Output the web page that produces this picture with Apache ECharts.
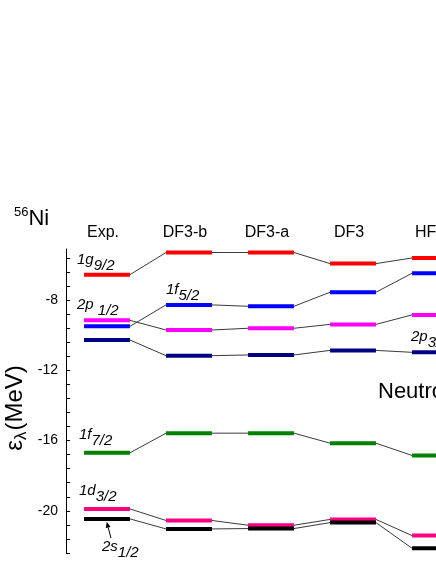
<!DOCTYPE html>
<html>
<head>
<meta charset="utf-8">
<script src="https://cdn.jsdelivr.net/npm/echarts@6/dist/echarts.min.js"></script>
<style>
  html, body { margin: 0; padding: 0; background: #fff; }
  #chart { width: 436px; height: 564px; }
</style>
</head>
<body>
<div id="chart"></div>
<script>
// methods along the top
const methods = ['Exp.', 'DF3-b', 'DF3-a', 'DF3', 'HFB'];

// single-particle neutron levels (MeV), one value per method
const level1g92 = [-6.56, -5.30, -5.30, -5.93, -5.61];
const level2p12 = [-9.16, -9.71, -9.61, -9.39, -8.85];
const level1f52 = [-9.50, -8.28, -8.36, -7.56, -6.48];
const level2p32 = [-10.28, -11.17, -11.13, -10.87, -10.98];
const level1f72 = [-16.70, -15.58, -15.58, -16.15, -16.85];
const level1d32 = [-19.89, -20.55, -20.82, -20.49, -21.41];
const level2s12 = [-20.46, -21.03, -21.01, -20.67, -22.13];

const orbitals = [
  { name: '1g9/2', levels: level1g92, color: '#ff0000' },
  { name: '2p1/2', levels: level2p12, color: '#ff00ff' },
  { name: '1f5/2', levels: level1f52, color: '#0000ff' },
  { name: '2p3/2', levels: level2p32, color: '#000080' },
  { name: '1f7/2', levels: level1f72, color: '#008000' },
  { name: '1d3/2', levels: level1d32, color: '#ff0080' },
  { name: '2s1/2', levels: level2s12, color: '#000000' }
];

// y axis ticks and labels
const yTicks = [-22.4, -21.6, -20.8, -20, -19.2, -18.4, -17.6, -16.8, -16, -15.2, -14.4,
  -13.6, -12.8, -12, -11.2, -10.4, -9.6, -8.8, -8, -7.2, -6.4, -5.6];
const yLabels = [-20, -16, -12, -8];

const FONT = '"Liberation Sans", Arial, sans-serif';
const HALF = 0.28; // half the width of a level bar, in category units

const chart = echarts.init(document.getElementById('chart'));

function levelRenderer(color) {
  return function (params, api) {
    const i = api.value(0), v = api.value(1);
    const a = api.coord([i - HALF, v]);
    const b = api.coord([i + HALF, v]);
    return {
      type: 'line',
      shape: { x1: a[0], y1: a[1], x2: b[0], y2: b[1] },
      style: { stroke: color, lineWidth: 4 }
    };
  };
}

function connectorRenderer(levels) {
  return function (params, api) {
    const i = api.value(0);
    if (i + 1 >= levels.length) return null;
    const b = api.coord([i + HALF, api.value(1)]);
    const c = api.coord([i + 1 - HALF, levels[i + 1]]);
    return {
      type: 'line',
      shape: { x1: b[0], y1: b[1], x2: c[0], y2: c[1] },
      style: { stroke: '#3a3a3a', lineWidth: 1 }
    };
  };
}

const series = [];
orbitals.forEach(function (o) {
  const data = o.levels.map(function (v, i) { return [i, v]; });
  series.push({ type: 'custom', name: o.name + ' link', z: 2, clip: false, data: data, renderItem: connectorRenderer(o.levels) });
  series.push({ type: 'custom', name: o.name, z: 3, clip: false, data: data, renderItem: levelRenderer(o.color) });
});

const subRich = {
  m: { fontFamily: FONT, fontSize: 15, fontStyle: 'italic', color: '#000', padding: [0, 0, 6, 0] },
  s: { fontFamily: FONT, fontSize: 15, fontStyle: 'italic', color: '#000', padding: [6, 0, 0, 0] }
};
function levelLabel(main, sub, x, y) {
  return {
    type: 'text', x: x, y: y, z: 10,
    style: { text: '{m|' + main + '}{s|' + sub + '}', rich: subRich, verticalAlign: 'middle', align: 'left' }
  };
}

chart.setOption({
  animation: false,
  backgroundColor: '#fff',
  grid: { left: 66, right: -40, top: 249, bottom: 11, outerBoundsMode: 'none', containLabel: false },
  xAxis: {
    type: 'value', min: -0.5, max: 4.5, position: 'top',
    axisLine: { show: false }, axisTick: { show: false }, splitLine: { show: false },
    axisLabel: {
      customValues: [0, 1, 2, 3, 4],
      formatter: function (v) { return methods[Math.round(v)]; },
      fontFamily: FONT, fontSize: 16, color: '#000', margin: 8, padding: [0, 8, 0, 0]
    }
  },
  yAxis: {
    type: 'value', min: -22.4, max: -5.1,
    axisLine: { show: true, onZero: false, lineStyle: { color: '#000', width: 1 } },
    axisTick: { show: true, inside: true, length: 4, customValues: yTicks, lineStyle: { color: '#000', width: 1 } },
    axisLabel: { customValues: yLabels, fontFamily: FONT, fontSize: 14, color: '#000', margin: 8 },
    splitLine: { show: false }
  },
  series: series,
  graphic: [
    {
      type: 'text', x: 14, y: 219,
      style: {
        text: '{a|56}{b|Ni}', verticalAlign: 'middle', align: 'left',
        rich: {
          a: { fontFamily: FONT, fontSize: 13, color: '#000', padding: [0, 0, 14, 0] },
          b: { fontFamily: FONT, fontSize: 22, color: '#000' }
        }
      }
    },
    {
      type: 'text', x: 17, y: 408, rotation: Math.PI / 2,
      style: {
        text: '{e|ε}{l|λ}{e|(MeV)}', verticalAlign: 'middle', align: 'center',
        rich: {
          e: { fontFamily: FONT, fontSize: 24, color: '#000', padding: [0, 0, 4, 0] },
          l: { fontFamily: FONT, fontSize: 17, color: '#000', padding: [9, 1, 0, 0] }
        }
      }
    },
    {
      type: 'text', x: 378, y: 392,
      style: { text: 'Neutrons', fontFamily: FONT, fontSize: 22, fill: '#000', verticalAlign: 'middle', align: 'left' }
    },
    levelLabel('1g', '9/2', 77, 263),
    levelLabel('2p ', '1/2', 77, 308),
    levelLabel('1f', '5/2', 166, 293),
    levelLabel('2p', '3/2', 411, 340),
    levelLabel('1f', '7/2', 79, 438),
    levelLabel('1d', '3/2', 79, 494),
    levelLabel('2s', '1/2', 102, 550),
    {
      type: 'line', z: 10,
      shape: { x1: 111, y1: 538, x2: 108.2, y2: 527.5 },
      style: { stroke: '#000', lineWidth: 1 }
    },
    {
      type: 'polygon', z: 10,
      shape: { points: [[106.7, 521.7], [110.6, 526.9], [105.8, 528.1]] },
      style: { fill: '#000' }
    }
  ]
});
</script>
</body>
</html>
